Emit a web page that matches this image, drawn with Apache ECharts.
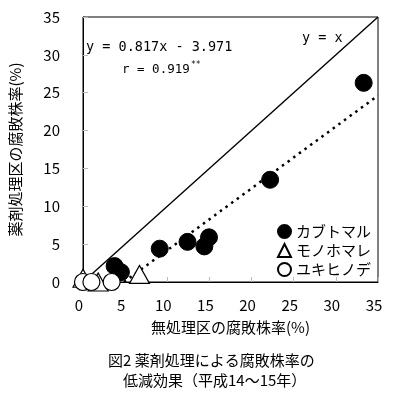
<!DOCTYPE html>
<html><head><meta charset="utf-8">
<script src="https://cdn.jsdelivr.net/npm/echarts@6/dist/echarts.min.js"></script>
<style>html,body{margin:0;padding:0;background:#fff}#c{width:400px;height:395px}</style>
</head><body><div id="c"></div>
<script>
const seriesNames = ['カブトマル', 'モノホマレ', 'ユキヒノデ'];
const kabutomaru = [[3.75, 2.1], [4.5, 1.3], [9.1, 4.4], [12.4, 5.3], [14.4, 4.7], [14.95, 5.9], [22.2, 13.5], [33.3, 26.3]];
const monohomare = [[0, 0.5], [1.8, 0], [6.7, 1.0]];
const yukihinode = [[0, 0], [1.0, 0], [3.4, 0]];
const identityLine = [[0, 0], [35, 35]];
const regSlope = 0.817, regIntercept = -3.971;
const axisMin = 0, axisMax = 35, axisStep = 5;
const xTitle = '無処理区の腐敗株率(%)';
const yTitle = '薬剤処理区の腐敗株率(%)';
const eqText = 'y = 0.817x - 3.971';
const rText = 'r = 0.919';
const rSig = '**';
const idText = 'y = x';
const caption1 = '図2 薬剤処理による腐敗株率の';
const caption2 = '低減効果（平成14～15年）';

const regLine = [[-regIntercept / regSlope, 0], [axisMax, regSlope * axisMax + regIntercept]];

const JP = "'Noto Sans CJK JP', sans-serif";
const MONO = "'DejaVu Sans Mono', monospace";

const chart = echarts.init(document.getElementById('c'));
const axisCommon = {
  type: 'value', min: axisMin, max: axisMax, interval: axisStep,
  axisLine: { show: true, lineStyle: { color: '#000', width: 1 } },
  axisTick: { show: true, inside: true, length: 5, lineStyle: { color: '#bbb' } },
  splitLine: { show: false },
  nameLocation: 'middle',
  nameTextStyle: { fontFamily: JP, fontSize: 15, color: '#000' }
};
chart.setOption({
  animation: false,
  grid: { left: 76, right: 22, top: 17, bottom: 113, show: true, borderColor: '#000', borderWidth: 1, backgroundColor: 'transparent' },
  xAxis: Object.assign({}, axisCommon, {
    name: xTitle, nameGap: 38,
    axisLabel: { fontFamily: JP, fontSize: 15, color: '#000', margin: 16, padding: [0, 8, 0, 0] }
  }),
  yAxis: Object.assign({}, axisCommon, {
    name: yTitle, nameGap: 60, nameRotate: 90,
    axisLabel: { fontFamily: JP, fontSize: 15, color: '#000', margin: 23 }
  }),
  legend: {
    data: seriesNames, orient: 'vertical', left: 277, top: 224, padding: 0,
    itemWidth: 13, itemHeight: 13, itemGap: 4, selectedMode: false,
    textStyle: { fontFamily: JP, fontSize: 15, color: '#000', lineHeight: 15 }
  },
  series: [
    { type: 'line', data: identityLine, symbol: 'none', silent: true, z: 1,
      lineStyle: { color: '#000', width: 1.4 } },
    { type: 'line', data: regLine, symbol: 'none', silent: true, z: 1,
      lineStyle: { color: '#000', width: 2.5, type: [2.5, 4.5] } },
    { name: seriesNames[0], type: 'scatter', data: kabutomaru, symbol: 'circle', symbolSize: 17, clip: false, z: 2,
      itemStyle: { color: '#000', borderColor: '#000', borderWidth: 1, opacity: 1 } },
    { name: seriesNames[1], type: 'scatter', data: monohomare, symbol: 'triangle', symbolSize: [20, 18], clip: false, z: 3,
      itemStyle: { color: '#fff', borderColor: '#000', borderWidth: 1.2, opacity: 1 } },
    { name: seriesNames[2], type: 'scatter', data: yukihinode, symbol: 'circle', symbolSize: 17, clip: false, z: 4,
      itemStyle: { color: '#fff', borderColor: '#000', borderWidth: 1.2, opacity: 1 } }
  ],
  graphic: [
    { type: 'text', x: 86, y: 47, style: { text: eqText, font: '13.5px ' + MONO, fill: '#000', verticalAlign: 'middle' } },
    { type: 'text', x: 122, y: 70, style: { text: rText, font: '12.5px ' + MONO, fill: '#000', verticalAlign: 'middle' } },
    { type: 'text', x: 191, y: 65, style: { text: rSig, font: '8px ' + MONO, fill: '#000', verticalAlign: 'middle' } },
    { type: 'text', x: 302, y: 38, style: { text: idText, font: '13.5px ' + MONO, fill: '#000', verticalAlign: 'middle' } },
    { type: 'text', x: 108, y: 360, style: { text: caption1, font: '15px ' + JP, fill: '#000', verticalAlign: 'middle' } },
    { type: 'text', x: 123, y: 380, style: { text: caption2, font: '15px ' + JP, fill: '#000', verticalAlign: 'middle' } }
  ]
});
</script></body></html>
